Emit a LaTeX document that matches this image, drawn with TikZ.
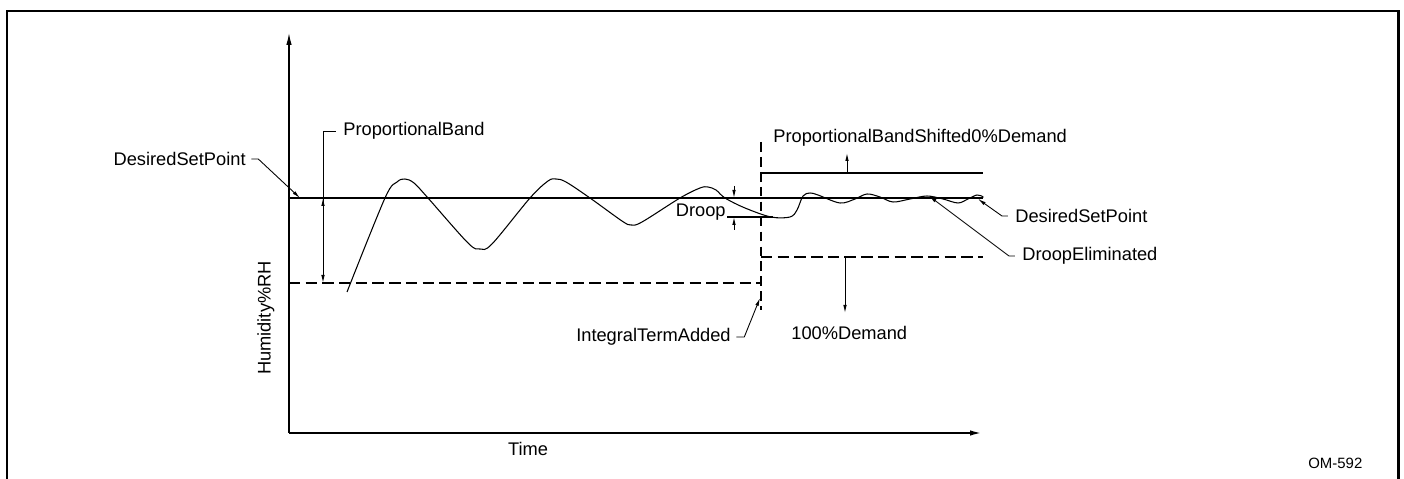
\documentclass[tikz,border=0pt]{standalone}
\usepackage{fontspec}
\setmainfont{Liberation Sans}
\usetikzlibrary{arrows.meta}

\tikzset{
  lbl/.style={font=\fontsize{10.4}{12}\selectfont, inner sep=0pt},
  lead/.style={line width=0.5pt},
  tip/.style={-{Latex[length=1.6mm,width=0.7mm]}},
  band/.style={line width=0.7pt, dash pattern=on 6.5pt off 3pt},
  resp/.style={line width=0.6pt},
}

\begin{document}
\begin{tikzpicture}[x=0.02cm, y=-0.02cm]
  \useasboundingbox (0,0) rectangle (1404,479);
  % frame
  \draw[line width=1.7pt] (7,479) -- (7,11) -- (1398,11) -- (1398,479);

  % axes
  \coordinate (O) at (289,433);
  \coordinate (ytop) at (289,33);
  \coordinate (xend) at (982,433);
  \draw[line width=0.7pt, -{Latex[length=2.4mm,width=1.1mm]}] (O) -- (ytop);
  \draw[line width=1.1pt, -{Latex[length=2.4mm,width=1.1mm]}] (O) -- (xend);

  % set point and band lines
  \coordinate (spL) at (289,198);
  \coordinate (spR) at (983,198);
  \draw[line width=0.6pt] (spL) -- (spR);
  \coordinate (bandL) at (289,283);
  \coordinate (bandR) at (761,283);
  \draw[band] (bandL) -- (bandR);
  \coordinate (intTop) at (761,142);
  \coordinate (intBot) at (761,310);
  \draw[line width=0.7pt, dash pattern=on 5.5pt off 3pt] (intTop) -- (intBot);
  \coordinate (shL) at (761,173);
  \coordinate (shR) at (983,173);
  \draw[line width=0.6pt] (shL) -- (shR);
  \coordinate (dmL) at (761,257);
  \coordinate (dmR) at (983,257);
  \draw[band] (dmL) -- (dmR);

  % response
  \draw[resp] plot[smooth, tension=0.55] coordinates {
    (347,292) (385,198) (397,182) (405,179) (414,183) (428,198)
    (468,243) (480,249) (492,244) (530,198) (548,181) (556,179)
    (566,182) (590,198) (622,221) (631,225) (642,222) (680,198)
    (700,188) (708,187) (716,190) (725,198) (745,208) (771,217)
    (790,217) (797,210) (803,196) (810,193) (818,195) (840,203)
    (855,199) (867,194) (880,197) (893,202) (910,199) (927,196)
    (943,199) (958,203) (968,199) (977,195) (983,197) (979,199)};

  % labels
  \node[lbl, anchor=west] (pbText) at (343,131) {ProportionalBand};
  \node[lbl, anchor=east] (dspL) at (246,159) {DesiredSetPoint};
  \node[lbl, anchor=west] (shText) at (773,138) {ProportionalBandShifted0\%Demand};
  \node[lbl, anchor=west] (dspR) at (1015,216) {DesiredSetPoint};
  \node[lbl, anchor=west] (deText) at (1022,256) {DroopEliminated};
  \node[lbl, anchor=west] (dmText) at (791,333) {100\%Demand};
  \node[lbl, anchor=east] (itText) at (731,337) {IntegralTermAdded};
  \node[lbl, anchor=east] (dpText) at (726,212) {Droop};
  \node[lbl] (tText) at (528,449) {Time};
  \node[lbl, rotate=90] (hText) at (266,318) {Humidity\%RH};
  \node[font=\fontsize{8.5}{10}\selectfont, inner sep=0pt, anchor=west] (omText) at (1308,463) {OM-592};

  % proportional band dimension
  \coordinate (pbLow) at (323,283);
  \coordinate (pbMid) at (323,214);
  \coordinate (pbSet) at (323,198);
  \draw[lead, tip] ([xshift=-4pt]pbText.west) -| (pbLow);
  \draw[lead, tip] (pbMid) -- (pbSet);

  % leaders
  \coordinate (spArrow) at (300,198);
  \draw[lead, tip] ([xshift=3pt]dspL.east) -- ++(7,0) -- (spArrow);
  \coordinate (curlArrow) at (978,199);
  \draw[lead, tip] ([xshift=-4pt]dspR.west) -- ++(-6,0) -- (curlArrow);
  \coordinate (deArrow) at (929,196);
  \draw[lead, tip] ([xshift=-4pt]deText.west) -- ++(-6,0) -- (deArrow);
  \coordinate (intArrow) at (760,298);
  \draw[lead, tip] ([xshift=3pt]itText.east) -- ++(8,0) -- (intArrow);

  % shift arrows
  \coordinate (shMid) at (847,173);
  \coordinate (shTip) at (847,153);
  \draw[lead, tip] (shMid) -- (shTip);
  \coordinate (dmMid) at (845,257);
  \coordinate (dmTip) at (845,313);
  \draw[lead, tip] (dmMid) -- (dmTip);

  % droop
  \coordinate (dpL) at (727,217);
  \coordinate (dpR) at (773,217);
  \draw[line width=0.6pt] (dpL) -- (dpR);
  \coordinate (dpTopA) at (734,186);
  \coordinate (dpTopB) at (734,198);
  \coordinate (dpBotA) at (734,230);
  \coordinate (dpBotB) at (734,217);
  \draw[lead, tip] (dpTopA) -- (dpTopB);
  \draw[lead, tip] (dpBotA) -- (dpBotB);
\end{tikzpicture}
\end{document}
